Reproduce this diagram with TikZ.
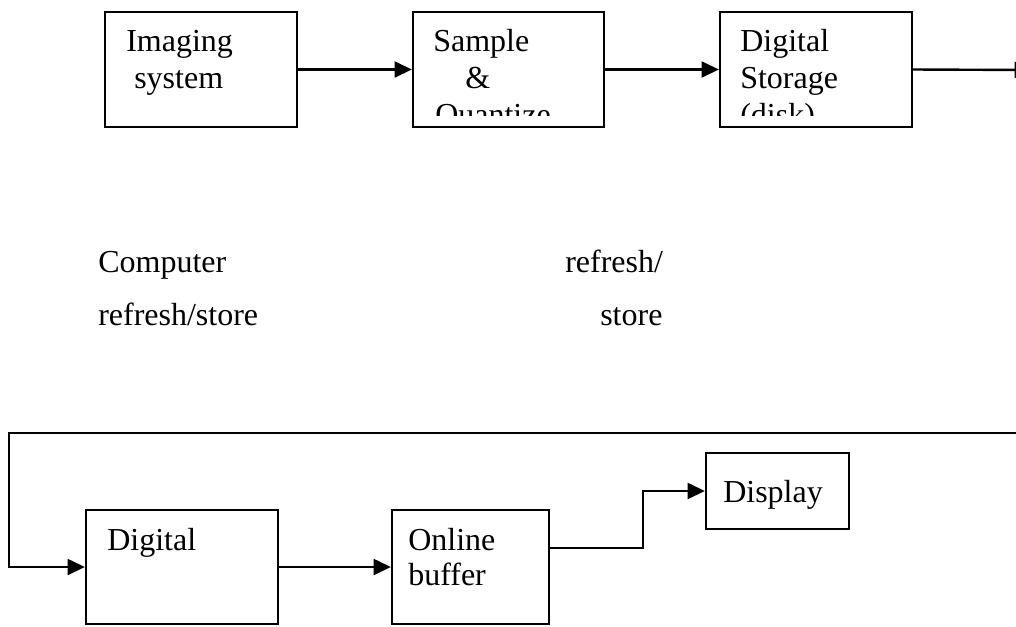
\documentclass[tikz,border=0pt]{standalone}
\usepackage{fontspec}
\setmainfont{Liberation Serif}
\usetikzlibrary{arrows.meta}
\begin{document}
\begin{tikzpicture}[x=0.75pt,y=-0.75pt,
  box/.style={draw,line width=1.7pt,minimum width=#1*0.75pt,inner sep=0pt},
  lbl/.style={anchor=base west,inner sep=0pt,font=\fontsize{24}{29}\selectfont},
  conn/.style={line width=1.8pt,-{Triangle[length=13pt,width=12pt]}},
  plain/.style={line width=1.8pt}]
\useasboundingbox (0,0) rectangle (1016,626);
% top row boxes
\node[box=192,minimum height=86.25pt] (img) at (201,69.5) {};
\node[box=191,minimum height=86.25pt] (sq) at (508.5,69.5) {};
\node[box=192,minimum height=86.25pt] (ds) at (816,69.5) {};
% clipped texts inside top boxes
\begin{scope}
\clip (105,12) rectangle (912,115);
\node[lbl] (t1) at (126,51) {Imaging};
\node[lbl] (t2) at (134,88) {system};
\node[lbl] (t3) at (433,51) {Sample};
\node[lbl] (t4) at (465,88) {\&};
\node[lbl] (t5) at (435,125) {Quantize};
\node[lbl] (t6) at (740,51) {Digital};
\node[lbl] (t7) at (740,88) {Storage};
\node[lbl] (t8) at (740,125) {(disk)};
\end{scope}
\coordinate (out) at (1032,70);
\draw[conn] (img.east) -- (sq.west);
\draw[conn] (sq.east) -- (ds.west);
\draw[conn] (ds.east) -- (out);
% middle labels
\node[lbl] (c1) at (98,272) {Computer};
\node[lbl] (c2) at (98,325) {refresh/store};
\node[lbl] (r1) at (565,272) {refresh/};
\node[lbl] (r2) at (600,325) {store};
% bottom row
\node[box=192,minimum height=85.5pt] (dig) at (182,567) {};
\node[box=157,minimum height=85.5pt] (onl) at (470.5,567) {};
\node[box=143,minimum height=57pt] (disp) at (777.5,491) {};
\node[lbl] (b1) at (107,550) {Digital};
\node[lbl] (b2) at (408,550) {Online};
\node[lbl] (b3) at (408,585) {buffer};
\node[lbl] (b4) at (723,502) {Display};
\coordinate (fbR) at (1020,433);
\coordinate (fbL) at (9,433);
\coordinate (obOut) at (549,548);
\coordinate (bend) at (643,548);
\draw[conn] (fbR) -- (fbL) |- (dig.west);
\draw[conn] (dig.east) -- (onl.west);
\draw[conn] (obOut) -- (bend) |- (disp.west);
\end{tikzpicture}
\end{document}
